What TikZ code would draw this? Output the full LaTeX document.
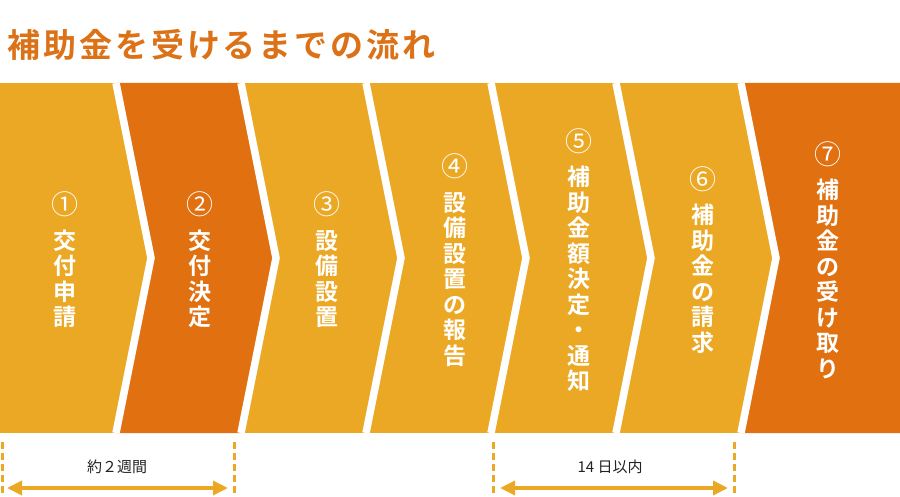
\documentclass[tikz,border=0pt]{standalone}
\usepackage{fontspec}
\setmainfont{Noto Sans CJK JP}[BoldFont=* Bold]
\newfontfamily\titlefont{Noto Sans CJK JP}[UprightFont=* Bold, LetterSpace=9]
\usetikzlibrary{arrows.meta, positioning}

\definecolor{lightor}{RGB}{235,168,36}
\definecolor{darkor}{RGB}{224,112,16}
\definecolor{titleor}{RGB}{220,114,24}
\definecolor{spantext}{RGB}{34,34,34}

\newcommand{\stepno}[1]{{\mdseries\fontsize{27}{25.5}\selectfont #1}}

\begin{document}
\begin{tikzpicture}[
    x=1pt, y=-1pt,
    gap/.style={draw=white, line width=7.5pt, miter limit=20},
    steptext/.style={inner sep=0pt, align=center, text=white, font=\bfseries\fontsize{23}{25.5}\selectfont},
    guide/.style={draw=lightor, line width=3pt, dash pattern=on 7pt off 4pt},
    span/.style={draw=lightor, line width=3.5pt, {Triangle[length=15pt, width=14pt]}-{Triangle[length=15pt, width=14pt]}},
    spanlabel/.style={inner sep=0pt, text=spantext, font=\fontsize{15}{16}\selectfont}
]
\useasboundingbox (0,0) rectangle (900,497);

% Title
\node[anchor=west, inner sep=0pt, text=titleor, font=\titlefont\fontsize{33}{36}\selectfont] (title) at (7,45) {補助金を受けるまでの流れ};

% Band of steps
\fill[lightor] (0,83) rectangle (900,433);
\fill[darkor] (116,83) -- (151,258) -- (116,433) -- (241,433) -- (276,258) -- (241,83) -- cycle;
\fill[darkor] (741,83) -- (776,258) -- (741,433) -- (900,433) -- (900,83) -- cycle;

% White chevron gaps
\foreach \c in {116,241,366,491,616,741} {
    \draw[gap] (\c,83) -- (\c+35,258) -- (\c,433);
}

% Step labels
\foreach \i/\x/\t in {
    1/65/{\stepno{①}\\[9pt]交\\付\\申\\請},
    2/200/{\stepno{②}\\[9pt]交\\付\\決\\定},
    3/327/{\stepno{③}\\[9pt]設\\備\\設\\置},
    4/455/{\stepno{④}\\[9pt]設\\備\\設\\置\\の\\報\\告},
    5/579/{\stepno{⑤}\\[9pt]補\\助\\金\\額\\決\\定\\・\\通\\知},
    6/703/{\stepno{⑥}\\[9pt]補\\助\\金\\の\\請\\求},
    7/828/{\stepno{⑦}\\[9pt]補\\助\\金\\の\\受\\け\\取\\り}} {
    \node[steptext] (s\i) at (\x,260) {\t};
}

% Time spans
\coordinate (g1) at (2,442);   \coordinate (g1b) at (2,497);
\coordinate (g2) at (234,442); \coordinate (g2b) at (234,497);
\coordinate (g3) at (493,442); \coordinate (g3b) at (493,497);
\coordinate (g4) at (734,442); \coordinate (g4b) at (734,497);
\foreach \g in {1,...,4} {
    \draw[guide] (g\g) -- (g\g b);
}

\coordinate (a1) at (7,488);   \coordinate (a2) at (228,488);
\coordinate (b1) at (500,488); \coordinate (b2) at (728,488);
\draw[span] (a1) -- (a2);
\draw[span] (b1) -- (b2);

\node[spanlabel] (twoweeks) at (117,467) {約２週間};
\node[spanlabel] (fourteen) at (610,467) {14 日以内};

\end{tikzpicture}
\end{document}
